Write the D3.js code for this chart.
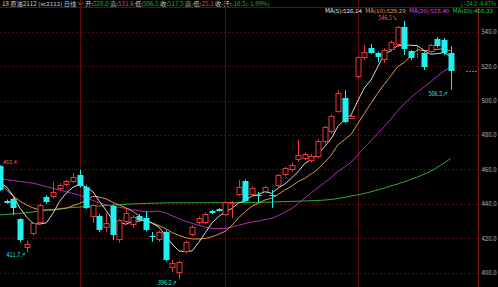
<!DOCTYPE html>
<html><head><meta charset="utf-8">
<script src="https://cdn.jsdelivr.net/npm/d3@7"></script>
<style>html,body{margin:0;padding:0;background:#000;overflow:hidden}</style>
</head><body>
<svg id="c" width="498" height="287"></svg>
<script>
// ---- data ----
const opens = [461.8,441.5,442.8,431.2,414.3,422.4,428.8,444.0,444.0,448.6,
450.9,452.7,456.8,449.8,432.3,432.9,425.9,438.7,418.9,429.4,
427.7,432.9,431.7,421.0,418.9,423.6,402.6,399.7,412.0,421.8,
428.8,428.8,435.8,437.0,433.5,439.9,445.1,453.3,445.1,445.3,
446.9,445.3,450.4,456.8,459.7,465.5,466.1,465.0,467.2,476.0,
481.8,493.4,501.6,489.5,513.8,524.9,530.7,527.8,523.7,529.5,
532.4,542.9,529.0,527.8,527.8,528.4,536.0,535.3,528.0];
const highs = [462.4,442.5,443.5,431.5,418.5,429.5,440.0,445.0,452.7,452.0,
454.0,457.9,459.7,451.0,440.0,434.0,434.6,439.5,431.0,437.0,
433.5,434.0,435.8,423.6,424.5,424.5,407.3,407.0,418.5,427.5,
432.5,435.0,436.5,437.5,441.6,441.6,453.9,454.0,450.0,446.9,
450.5,448.0,457.5,461.5,464.0,477.2,470.0,469.0,477.5,485.5,
492.0,506.0,506.2,492.5,526.0,532.4,533.0,528.5,530.5,535.0,
543.5,546.5,529.5,531.8,528.5,533.0,537.0,536.5,531.6];
const lows = [447.5,440.0,433.5,417.5,411.7,421.5,428.0,440.0,443.0,448.0,
450.0,452.0,449.5,437.0,428.8,423.5,423.6,419.0,417.2,428.0,
426.0,429.5,424.0,417.8,418.0,406.5,400.3,396.2,411.0,421.0,
428.0,428.0,434.0,435.5,433.0,431.7,444.5,441.0,444.5,441.0,
446.0,437.6,449.8,456.0,458.5,464.3,465.5,464.0,466.5,475.0,
481.0,493.0,487.0,489.5,513.0,523.7,527.2,522.5,522.0,528.5,
531.0,526.6,523.5,524.9,517.9,527.0,531.0,526.5,506.5];
const closes = [448.2,440.6,437.6,418.9,416.6,428.8,439.3,441.0,446.9,450.9,
453.3,455.6,450.4,437.6,439.3,424.8,428.8,421.8,430.6,434.6,
432.3,430.6,424.8,420.6,423.6,407.3,405.5,406.1,417.8,426.5,
431.7,434.1,434.6,435.8,441.0,441.0,449.8,441.6,449.2,445.1,
449.8,445.0,456.8,460.8,462.6,468.4,469.0,468.0,476.6,484.7,
491.1,504.5,487.6,491.1,525.4,528.4,527.8,525.4,529.5,534.2,
542.9,530.1,524.9,528.4,519.6,532.4,531.8,527.8,517.5];
const ma5 = [452.1,449.8,444.5,437.6,432.4,428.5,428.2,428.9,434.5,441.4,
446.3,449.5,451.4,449.6,447.2,441.5,436.2,430.5,429.1,428.1,
429.6,430.0,430.6,428.6,426.4,421.4,416.4,412.6,412.1,412.6,
417.5,423.2,428.9,432.5,435.4,437.3,440.4,441.8,444.5,445.3,
447.1,446.1,449.2,451.5,455.0,458.7,463.5,465.8,468.9,473.3,
477.9,485.0,488.9,491.8,499.9,507.4,512.1,519.6,527.3,529.1,
532.0,532.4,532.3,532.1,529.2,527.1,527.4,528.0,525.8];
const ma10 = [452.1,448.0,444.5,441.6,439.3,437.6,436.4,436.4,436.4,436.9,
437.4,438.9,440.2,442.0,444.3,443.9,442.9,440.9,439.3,437.7,
435.6,433.1,430.5,428.8,427.3,425.5,423.2,421.6,420.3,419.5,
419.5,419.8,420.8,422.3,424.0,427.4,431.8,435.4,438.5,440.4,
442.2,443.3,445.5,448.0,450.2,452.9,454.8,457.5,460.2,464.2,
468.3,474.3,477.3,480.4,486.6,492.6,498.5,504.3,509.6,514.5,
519.7,522.2,526.0,529.7,529.1,529.5,529.9,530.2,529.0];
const ma20 = [454.5,454.0,453.5,453.0,452.5,452.0,451.0,450.0,449.0,448.0,
447.0,446.0,445.0,443.5,442.0,440.5,439.5,438.5,438.0,437.3,
436.5,436.0,435.3,435.4,435.8,434.7,433.0,431.3,429.8,428.6,
427.5,426.4,425.7,425.6,425.6,426.5,427.5,428.5,429.4,430.0,
430.8,431.5,433.1,435.2,437.1,440.2,443.3,446.4,449.4,452.3,
455.3,458.8,461.4,464.2,468.4,472.8,476.7,480.9,484.9,489.3,
494.0,498.2,501.7,505.0,507.9,511.1,514.2,517.2,519.3];
const ma60Idx = [0,5,10,15,20,25,30,35,40,45,50,53,55,58,60,63,65,68];
const ma60 = [433.5,435.2,437.6,438.7,439.9,440.5,440.6,440.7,440.9,441.5,442.5,444.5,446.0,449.2,451.5,455.6,459.0,466.3];
const yTicks = [400,420,440,460,480,500,520,540];
const monthStartIdx = [12,34,54];
const headerParts = [
  ["18 原油2112 (sc2112) 日线 ∨ ", "#d0d0d0"],
  ["开:", "#d0d0d0"], ["528.0 ", "#00c800"],
  ["高:", "#d0d0d0"], ["531.6 ", "#ff4040"],
  ["低:", "#d0d0d0"], ["506.5 ", "#00c800"],
  ["收:", "#d0d0d0"], ["517.5 ", "#00c800"],
  ["高-低:", "#d0d0d0"], ["25.1 ", "#ff4040"],
  ["收-开:", "#d0d0d0"], ["-10.5(-1.99%)", "#00c800"]
];
const maLegend = [
  ["MA(5):526.14", "#e8e8e8"],
  ["MA(10):529.29", "#e0a050"],
  ["MA(20):518.40", "#e040e0"],
  ["MA(60):466.33", "#30d030"]
];

// ---- drawing ----
const svg = d3.select("#c");
const W = 498, H = 287, axisX = 478.5;
const x = d3.scaleLinear().domain([0, 68]).range([0, 450.5]);
const y = d3.scaleLinear().domain([400, 540]).range([272.5, 32]);
const font = "'Noto Sans CJK SC','DejaVu Sans',sans-serif";
const RED = "#ee3535", CYAN = "#1ff0f0", GRID = "#520a0a";

svg.append("rect").attr("width", W).attr("height", H).attr("fill", "#000");

// header
const hdrText = svg.append("text").attr("x", 2).attr("y", 5.5)
  .attr("font-family", font).attr("font-size", 5.5)
  .attr("textLength", 268).attr("lengthAdjust", "spacingAndGlyphs");
headerParts.forEach(([t, c]) => hdrText.append("tspan").attr("fill", c).attr("xml:space", "preserve").text(t));
svg.append("text").attr("x", 496).attr("y", 5.5).attr("text-anchor", "end")
  .attr("font-family", font).attr("font-size", 5.5).attr("fill", "#00c800").text("↓-24.2 -4.47%");
svg.append("line").attr("x1", 0).attr("x2", W).attr("y1", 7.5).attr("y2", 7.5).attr("stroke", "#6a0c0c");

// grid
const grid = svg.append("g");
grid.selectAll("line.h").data(yTicks).join("line")
  .attr("x1", 0).attr("x2", axisX)
  .attr("y1", d => Math.round(y(d)) + 0.5).attr("y2", d => Math.round(y(d)) + 0.5)
  .attr("stroke", GRID).attr("stroke-dasharray", "2,2");
grid.selectAll("line.v").data(monthStartIdx).join("line")
  .attr("x1", d => Math.round(x(d)) + 0.5).attr("x2", d => Math.round(x(d)) + 0.5)
  .attr("y1", 0).attr("y2", H)
  .attr("stroke", "#5e0c0c");
svg.append("line").attr("x1", axisX).attr("x2", axisX).attr("y1", 7.5).attr("y2", H).attr("stroke", "#7a1414");

// axis labels
const yAxis = d3.axisRight(y).tickValues(yTicks).tickFormat(d3.format(".1f")).tickSize(0).tickPadding(3);
const ag = svg.append("g").attr("transform", `translate(${axisX},0)`).call(yAxis);
ag.select(".domain").remove();
ag.selectAll("text").attr("fill", "#c0b0b0").attr("font-size", 6).attr("font-family", font);

// MA legend
const lg = svg.append("text").attr("x", 325).attr("y", 13)
  .attr("font-family", font).attr("font-size", 5.5)
  .attr("textLength", 168).attr("lengthAdjust", "spacingAndGlyphs");
maLegend.forEach(([t, c], k) => lg.append("tspan").attr("fill", c).attr("dx", k ? 3 : 0).text(t));

// MA lines
const idx = d3.range(opens.length);
const lineGen = d3.line().x(d => x(d[0])).y(d => y(d[1]));
const maG = svg.append("g").attr("fill", "none").attr("stroke-width", 1);
maG.append("path").attr("d", d3.line().x(d => x(d[0])).y(d => y(d[1])).curve(d3.curveMonotoneX)(ma60Idx.map((k, j) => [k, ma60[j]]))).attr("stroke", "#2fb02f");
maG.append("path").attr("d", lineGen(idx.map(i => [i, ma20[i]]))).attr("stroke", "#b52cb5");
maG.append("path").attr("d", lineGen(idx.map(i => [i, ma10[i]]))).attr("stroke", "#d89a50");
maG.append("path").attr("d", lineGen(idx.map(i => [i, ma5[i]]))).attr("stroke", "#d8d8d8");

// candles
const cg = svg.append("g");
idx.forEach(i => {
  const o = opens[i], c = closes[i], h = highs[i], l = lows[i];
  const up = c >= o;
  const cx = Math.round(x(i)) + 0.5;
  const top = Math.round(y(Math.max(o, c))), bot = Math.round(y(Math.min(o, c)));
  const col = up ? RED : CYAN;
  cg.append("line").attr("x1", cx).attr("x2", cx).attr("y1", y(h)).attr("y2", top).attr("stroke", col);
  cg.append("line").attr("x1", cx).attr("x2", cx).attr("y1", bot).attr("y2", y(l)).attr("stroke", col);
  if (bot - top < 1) {
    cg.append("line").attr("x1", cx - 3).attr("x2", cx + 3).attr("y1", top + 0.5).attr("y2", top + 0.5).attr("stroke", col);
  } else if (up) {
    cg.append("rect").attr("x", cx - 2.5).attr("y", top + 0.5).attr("width", 5).attr("height", bot - top - 1)
      .attr("fill", "#000").attr("stroke", col);
  } else {
    cg.append("rect").attr("x", cx - 3).attr("y", top).attr("width", 6).attr("height", bot - top).attr("fill", col);
  }
});

// current price marker
const lastY = Math.round(y(closes[closes.length - 1])) + 0.5;
svg.append("line").attr("x1", 466).attr("x2", axisX - 1).attr("y1", lastY).attr("y2", lastY)
  .attr("stroke", "#1aa0a0").attr("stroke-dasharray", "2,1");

// annotations
const an = svg.append("g").attr("font-family", font).attr("font-size", 5.5);
an.append("text").attr("x", x(61) - 26).attr("y", y(546.5) - 1).attr("fill", "#ff5a5a").text("546.5↘");
an.append("text").attr("x", x(68) - 22).attr("y", y(506.5) + 6).attr("fill", CYAN).text("506.5↗");
an.append("text").attr("x", 3).attr("y", y(462.4) - 1).attr("fill", "#ff5a5a").text("462.4");
an.append("text").attr("x", x(4) - 20).attr("y", y(411.7) + 5).attr("fill", CYAN).text("411.7↗");
an.append("text").attr("x", x(27) - 21).attr("y", y(396.2) + 6).attr("fill", CYAN).text("396.2↗");
</script>
</body></html>
